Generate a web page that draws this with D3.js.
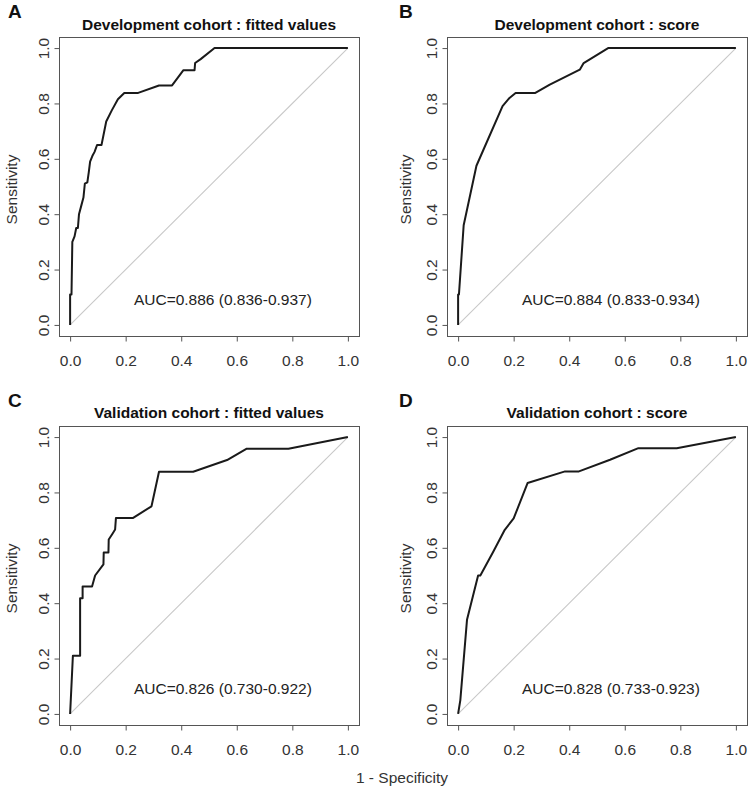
<!DOCTYPE html>
<html><head><meta charset="utf-8">
<script src="https://cdn.jsdelivr.net/npm/d3@7"></script>
<style>
html,body{margin:0;padding:0;background:#fff;}
svg{display:block;font-family:"Liberation Sans",Arial,sans-serif;}
</style></head>
<body>
<svg id="chart" width="749" height="793"></svg>
<script>
// ---------- data ----------
const panelLetters = ["A","B","C","D"];
const panelTitles = ["Development cohort : fitted values","Development cohort : score","Validation cohort : fitted values","Validation cohort : score"];
const aucLabels = ["AUC=0.886 (0.836-0.937)","AUC=0.884 (0.833-0.934)","AUC=0.826 (0.730-0.922)","AUC=0.828 (0.733-0.923)"];
const tickValues = [0,0.2,0.4,0.6,0.8,1.0];
const tickLabels = ["0.0","0.2","0.4","0.6","0.8","1.0"];
const xLabel = "1 - Specificity";
const yLabel = "Sensitivity";

// ROC points: [1 - specificity, sensitivity]
const rocDevFitted = [[0,0],[0,0.11],[0.005,0.11],[0.008,0.30],[0.016,0.32],[0.022,0.35],[0.028,0.35],[0.032,0.40],[0.04,0.43],[0.048,0.46],[0.053,0.51],[0.062,0.515],[0.067,0.55],[0.072,0.59],[0.08,0.61],[0.088,0.625],[0.097,0.65],[0.113,0.65],[0.13,0.735],[0.15,0.775],[0.172,0.815],[0.195,0.838],[0.245,0.838],[0.32,0.865],[0.367,0.865],[0.408,0.92],[0.448,0.92],[0.45,0.946],[0.47,0.96],[0.52,1],[1,1]];
const rocDevScore = [[0,0],[0,0.11],[0.003,0.11],[0.02,0.36],[0.066,0.575],[0.09,0.63],[0.16,0.79],[0.185,0.82],[0.207,0.838],[0.278,0.838],[0.33,0.868],[0.438,0.922],[0.452,0.946],[0.54,1],[1,1]];
const rocValFitted = [[0,0],[0.01,0.21],[0.036,0.21],[0.036,0.418],[0.045,0.418],[0.045,0.46],[0.079,0.46],[0.09,0.5],[0.12,0.54],[0.121,0.583],[0.138,0.583],[0.139,0.63],[0.152,0.65],[0.162,0.666],[0.165,0.708],[0.227,0.708],[0.293,0.75],[0.32,0.875],[0.443,0.875],[0.565,0.917],[0.636,0.958],[0.786,0.958],[1,1]];
const rocValScore = [[0,0],[0.008,0.05],[0.032,0.34],[0.072,0.5],[0.08,0.5],[0.126,0.585],[0.168,0.665],[0.2,0.706],[0.25,0.834],[0.385,0.876],[0.435,0.876],[0.547,0.918],[0.649,0.96],[0.787,0.96],[1,1]];
const rocSeries = [rocDevFitted, rocDevScore, rocValFitted, rocValScore];

// ---------- layout ----------
const panels = [
  {bx:59,  by:37,  ylabOff:42, titleY:30,  letterX:8,   letterY:18},
  {bx:447, by:37,  ylabOff:36, titleY:30,  letterX:399, letterY:18},
  {bx:59,  by:426, ylabOff:42, titleY:418, letterX:8,   letterY:407},
  {bx:447, by:426, ylabOff:36, titleY:418, letterX:399, letterY:407}
];
const BW = 300, BH = 299;
const FS = 15.5;
const svg = d3.select("#chart");

panels.forEach((p, i) => {
  const x = d3.scaleLinear().domain([-0.04,1.04]).range([p.bx, p.bx+BW]);
  const y = d3.scaleLinear().domain([-0.04,1.04]).range([p.by+BH, p.by]);
  const g = svg.append("g");

  // diagonal
  g.append("line")
    .attr("x1", x(0)).attr("y1", y(0)).attr("x2", x(1)).attr("y2", y(1))
    .attr("stroke", "#c8c8c8").attr("stroke-width", 1.1);

  // ROC curve
  const line = d3.line().x(d => x(d[0])).y(d => y(d[1]));
  g.append("path").datum(rocSeries[i]).attr("d", line)
    .attr("fill", "none").attr("stroke", "#1a1a1a").attr("stroke-width", 2)
    .attr("stroke-linejoin", "round");

  // box
  g.append("rect").attr("x", p.bx+0.5).attr("y", p.by+0.5).attr("width", BW).attr("height", BH)
    .attr("fill", "none").attr("stroke", "#555").attr("stroke-width", 1);

  // x axis
  const xa = g.append("g").attr("transform", `translate(0,${p.by+BH+0.5})`)
    .call(d3.axisBottom(x).tickValues(tickValues).tickFormat((d,k)=>tickLabels[k]).tickSize(5).tickPadding(0));
  xa.select(".domain").remove();
  xa.selectAll(".tick line").attr("stroke", "#555");
  xa.selectAll(".tick text").attr("font-size", FS).attr("fill", "#333")
    .attr("font-family", "Liberation Sans, Arial, sans-serif")
    .attr("dy", null).attr("y", 29.5);

  // y axis
  const ya = g.append("g").attr("transform", `translate(${p.bx+0.5},0)`)
    .call(d3.axisLeft(y).tickValues(tickValues).tickFormat((d,k)=>tickLabels[k]).tickSize(5));
  ya.select(".domain").remove();
  ya.selectAll(".tick line").attr("stroke", "#555");
  ya.selectAll(".tick text").attr("font-size", FS).attr("fill", "#333")
    .attr("font-family", "Liberation Sans, Arial, sans-serif")
    .attr("x", null).attr("dy", null)
    .attr("text-anchor", "middle")
    .attr("transform", "translate(-11,0) rotate(-90)");

  // y label
  g.append("text").attr("transform", `translate(${p.bx - p.ylabOff},${p.by+BH/2+3}) rotate(-90)`)
    .attr("text-anchor", "middle").attr("font-size", FS).attr("fill", "#333").text(yLabel);

  // title
  g.append("text").attr("x", p.bx+BW/2).attr("y", p.titleY)
    .attr("text-anchor", "middle").attr("font-size", FS).attr("font-weight", "bold").attr("fill", "#111")
    .text(panelTitles[i]);

  // letter
  g.append("text").attr("x", p.letterX).attr("y", p.letterY)
    .attr("font-size", 19).attr("font-weight", "bold").attr("fill", "#111").text(panelLetters[i]);

  // AUC
  g.append("text").attr("x", x(0.55)).attr("y", y(0.09)).attr("dy", "0.35em")
    .attr("text-anchor", "middle").attr("font-size", FS).attr("fill", "#222").text(aucLabels[i]);
});

// common x label
svg.append("text").attr("x", 402).attr("y", 783).attr("text-anchor", "middle")
  .attr("font-size", FS).attr("fill", "#333").text(xLabel);
</script>
</body></html>
